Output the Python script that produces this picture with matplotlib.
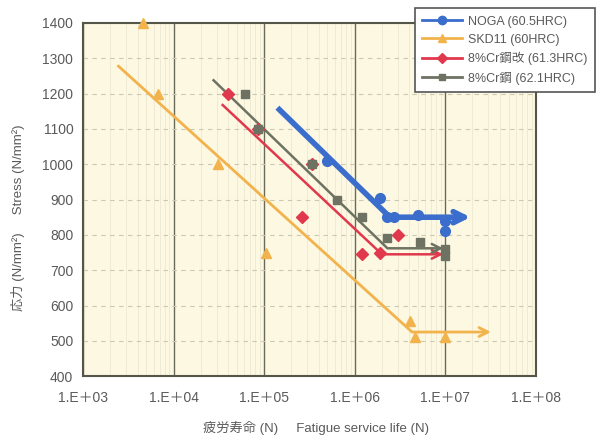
import matplotlib
matplotlib.use('Agg')
import matplotlib.pyplot as plt
from matplotlib.ticker import FixedLocator, LogLocator, NullFormatter
import numpy as np

plt.rcParams['font.family'] = ['Liberation Sans', 'Noto Sans CJK JP', 'DejaVu Sans']

# measured points
noga_n = [4.9e5, 1.9e6, 2.3e6, 2.7e6, 5.0e6, 1.0e7, 1.0e7]
noga_s = [1010, 905, 850, 850, 855, 840, 810]

skd_n = [4.6e3, 6.7e3, 3.1e4, 1.05e5, 4.1e6, 4.6e6, 1.0e7]
skd_s = [1400, 1200, 1000, 750, 555, 510, 510]

crmod_n = [4.0e4, 8.5e4, 3.4e5, 2.6e5, 1.2e6, 1.9e6, 3.0e6]
crmod_s = [1200, 1100, 1000, 850, 745, 750, 800]

cr_n = [6.1e4, 8.5e4, 3.4e5, 6.3e5, 1.2e6, 2.3e6, 5.3e6, 1.0e7, 1.0e7]
cr_s = [1200, 1100, 1000, 900, 850, 790, 780, 760, 740]

# S-N fit lines (start, knee, end)
noga_fit_n = [1.4e5, 2.45e6, 1.9e7]
noga_fit_s = [1160, 850, 850]
skd_fit_n = [2.4e3, 4.3e6, 3.2e7]
skd_fit_s = [1280, 525, 525]
crmod_fit_n = [3.4e4, 2.0e6, 9.5e6]
crmod_fit_s = [1170, 745, 745]
cr_fit_n = [2.7e4, 2.3e6, 9.5e6]
cr_fit_s = [1240, 762, 762]

labels = ['NOGA (60.5HRC)', 'SKD11 (60HRC)', '8%Cr鋼改 (61.3HRC)', '8%Cr鋼 (62.1HRC)']
xticks = [1e3, 1e4, 1e5, 1e6, 1e7, 1e8]
xticklabels = ['1.E＋03', '1.E＋04', '1.E＋05', '1.E＋06', '1.E＋07', '1.E＋08']

c_noga = '#3a6dcc'
c_skd = '#f2b34c'
c_crmod = '#e0384c'
c_cr = '#6e7262'
txt = '#5a5a5a'

fig = plt.figure(figsize=(6.02, 4.40), dpi=100)
ax = fig.add_axes([0.138, 0.145, 0.752, 0.803])
ax.set_facecolor('#fcf8e2')

ax.set_xscale('log')
ax.set_xlim(1e3, 1e8)
ax.set_ylim(400, 1400)

# grid
ax.xaxis.set_major_locator(FixedLocator(xticks))
ax.xaxis.set_minor_locator(LogLocator(base=10, subs=np.arange(2, 10)))
ax.xaxis.set_minor_formatter(NullFormatter())
ax.set_xticklabels(xticklabels)
ax.set_yticks(np.arange(400, 1401, 100))
ax.grid(which='major', axis='x', color='#6a6a5a', lw=1.0)
ax.grid(which='minor', axis='x', color='#efead4', lw=0.7)
ax.grid(which='major', axis='y', color='#ccc8b4', lw=0.8, ls=(0, (4, 4)))
ax.set_axisbelow(True)

for sp in ax.spines.values():
    sp.set_color('#555548')
    sp.set_linewidth(1.5)

ax.tick_params(which='both', length=0, colors=txt, labelsize=10)
ax.tick_params(axis='x', pad=11)
ax.tick_params(axis='y', pad=7)

fits = [
    (noga_fit_n, noga_fit_s, c_noga, 4.0),
    (skd_fit_n, skd_fit_s, c_skd, 2.0),
    (crmod_fit_n, crmod_fit_s, c_crmod, 1.8),
    (cr_fit_n, cr_fit_s, c_cr, 1.8),
]
for fn, fs, col, lw in fits:
    ax.plot(fn[:-1], fs[:-1], color=col, lw=lw, solid_capstyle='butt', zorder=3)
    ax.annotate('', xy=(fn[-1], fs[-1]), xytext=(fn[-2], fs[-2]),
                arrowprops=dict(arrowstyle='->', color=col, lw=lw,
                                mutation_scale=12 + lw * 2,
                                shrinkA=0, shrinkB=0), zorder=3)

ax.plot(skd_n, skd_s, ls='none', marker='^', ms=7.5, color=c_skd, clip_on=False, zorder=4)
ax.plot(crmod_n, crmod_s, ls='none', marker='D', ms=6, color=c_crmod, zorder=4)
ax.plot(cr_n, cr_s, ls='none', marker='s', ms=6, color=c_cr, zorder=4)
ax.plot(noga_n, noga_s, ls='none', marker='o', ms=7, color=c_noga, zorder=5)

# legend handles
h1, = ax.plot([], [], color=c_noga, lw=2, marker='o', ms=6)
h2, = ax.plot([], [], color=c_skd, lw=2, marker='^', ms=6)
h3, = ax.plot([], [], color=c_crmod, lw=2, marker='D', ms=5)
h4, = ax.plot([], [], color=c_cr, lw=2, marker='s', ms=5)
leg = fig.legend([h1, h2, h3, h4], labels, loc='upper right',
                 bbox_to_anchor=(0.999, 0.996), fontsize=9, frameon=True,
                 fancybox=False, edgecolor='#555555', framealpha=1,
                 handlelength=3.2, labelspacing=0.5, borderpad=0.6,
                 handletextpad=0.5)
for t in leg.get_texts():
    t.set_color(txt)
leg.get_frame().set_linewidth(1.2)

fig.text(316 / 602, 1 - 428 / 440, '疲労寿命 (N)     Fatigue service life (N)',
         color=txt, fontsize=9.5, ha='center', va='center')
fig.text(18 / 602, 1 - 218 / 440, '応力 (N/mm²)     Stress (N/mm²)',
         color=txt, fontsize=9.5, ha='center', va='center', rotation=90)

fig.savefig('out.png', dpi=100, facecolor='white')
